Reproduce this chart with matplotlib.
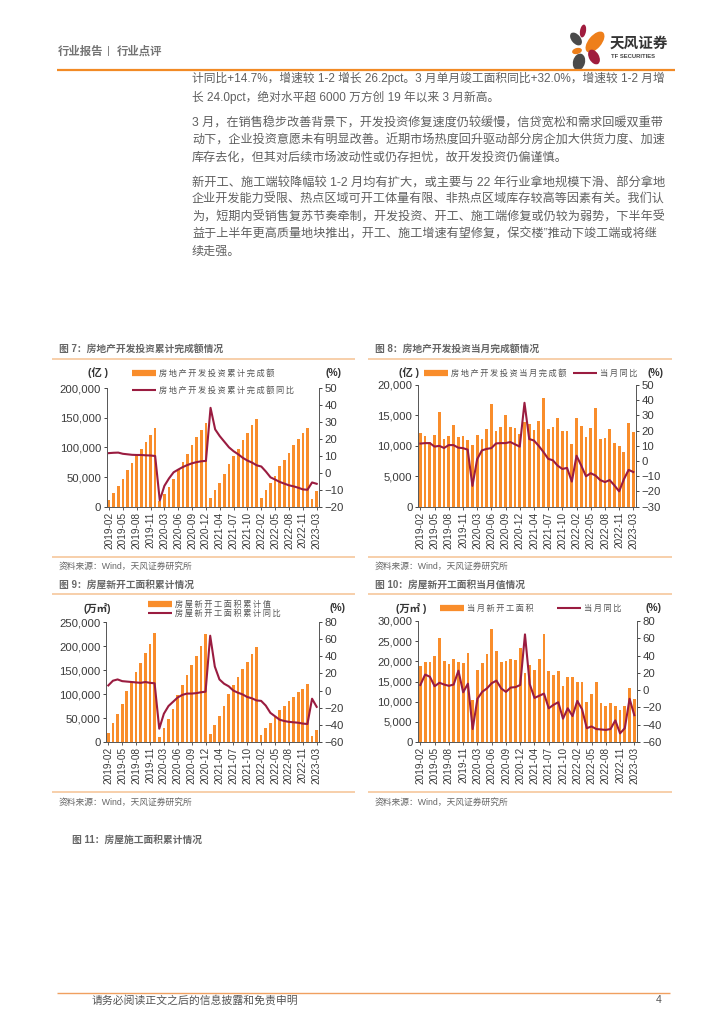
import matplotlib
matplotlib.use("Agg")
import matplotlib.pyplot as plt
from matplotlib.patches import Ellipse
from matplotlib.ticker import FuncFormatter, MultipleLocator

plt.rcParams['font.family'] = ['Liberation Sans', 'Noto Sans CJK SC', 'DejaVu Sans']

W, H = 724, 1024
CJK = ['Noto Sans CJK SC', 'DejaVu Sans']
ORANGE = '#F98D2B'
RED = '#9A1C40'
GREY = '#5A5A5A'
PEACH = '#F7CBA4'

months = ['2019-02','2019-03','2019-04','2019-05','2019-06','2019-07','2019-08','2019-09','2019-10','2019-11','2019-12',
          '2020-02','2020-03','2020-04','2020-05','2020-06','2020-07','2020-08','2020-09','2020-10','2020-11','2020-12',
          '2021-02','2021-03','2021-04','2021-05','2021-06','2021-07','2021-08','2021-09','2021-10','2021-11','2021-12',
          '2022-02','2022-03','2022-04','2022-05','2022-06','2022-07','2022-08','2022-09','2022-10','2022-11','2022-12',
          '2023-02','2023-03']

invest_cum = [12000,23800,34200,46000,61600,73000,84600,98000,109600,121300,132200,
              10100,21900,33100,45900,62800,75300,88500,103500,116600,129500,141400,
              13900,27600,40200,54300,72000,84900,98000,112000,124900,137300,147600,
              14500,27800,39200,52100,68300,79500,90800,103600,113900,123900,132900,
              13700,25900]
invest_cum_yoy = [11.6,11.8,11.9,11.2,10.9,10.6,10.5,10.5,10.3,10.2,9.9,
                  -16.3,-7.7,-3.3,0.3,1.9,3.4,4.6,5.6,6.3,6.8,7.0,
                  38.3,25.6,21.6,18.3,15.0,12.7,10.9,8.8,7.2,6.0,4.4,
                  3.7,0.7,-2.7,-4.0,-5.4,-6.4,-7.4,-8.0,-8.8,-9.8,-10.0,
                  -5.7,-6.5]
invest_mon = [12100,11700,10700,11800,15500,11200,11700,13400,11500,11600,10900,
              10100,11800,11100,12800,16900,12500,13100,15000,13100,12900,11900,
              13900,13600,12600,14100,17900,12800,13100,14500,12400,12400,10300,
              14500,13300,11400,13000,16200,11100,11300,12800,10400,10000,9000,
              13700,12200]
invest_mon_yoy = [11.5,11.8,11.8,9.5,10,8.6,10.5,10.5,8.8,8.5,7.5,
                  -16.3,1.2,7,8,8.5,11.6,11.8,11.8,12.5,11,9.5,
                  38.3,14.5,13.5,10,6,1.5,0.5,-3,-5.2,-4.5,-13.5,
                  3.5,-3,-10,-8,-9.5,-12.5,-13.8,-12.5,-16,-19.9,-12,
                  -5.8,-7.2]
start_cum = [19200,39000,58600,80000,105500,123000,145000,164500,185500,204500,227000,
             10400,28200,48100,69500,97500,119000,139800,160500,180000,201000,224500,
             17000,36200,54000,74000,100500,119000,135500,152000,166500,183500,198500,
             15000,29500,39700,51500,66500,76000,85500,94500,103500,111000,120500,
             13000,24000]
start_cum_yoy = [6,11.5,13,11,10.5,10,9.5,9,10,9,8.5,
                 -44.5,-27,-18,-13,-8,-5,-3.5,-3.5,-3,-2,-1.3,
                 64,28,13,8,5,0,-2.5,-4.5,-7.5,-9,-11.5,
                 -12,-17.5,-26,-30,-34,-35.5,-36.5,-37,-37.5,-38.5,-39,
                 -9.5,-19]
start_mon = [18800,19900,19800,21200,25700,20200,19400,20500,19900,19500,22000,
             10400,17800,19500,21800,28000,22500,19800,20200,20600,20300,23300,
             17000,19100,17800,20500,26900,17600,16500,17500,13800,16000,16000,
             14900,14800,9900,11800,14800,9600,8900,9700,8900,8000,8900,
             13500,10600]
start_mon_yoy = [6,18,15.5,4.5,8.5,6.5,5,6.5,22.5,-2.5,7.5,
                 -45,-10,-2,2,8,11,2,-2,3,3.5,6,
                 64.5,7,-9,-6.5,-4,-21,-17,-14,-33,-21,-30,
                 -12.5,-22,-44,-42,-45,-45.5,-46,-45,-35,-50,-44,
                 -10,-29]

C = '\uff0c'   # full-width comma
K = '\uff1a'   # full-width colon
body_lines = [
    f'计同比+14.7%{C}增速较 1-2 增长 26.2pct。3 月单月竣工面积同比+32.0%{C}增速较 1-2 月增',
    f'长 24.0pct{C}绝对水平超 6000 万方创 19 年以来 3 月新高。',
    f'3 月{C}在销售稳步改善背景下{C}开发投资修复速度仍较缓慢{C}信贷宽松和需求回暖双重带',
    f'动下{C}企业投资意愿未有明显改善。近期市场热度回升驱动部分房企加大供货力度、加速',
    f'库存去化{C}但其对后续市场波动性或仍存担忧{C}故开发投资仍偏谨慎。',
    f'新开工、施工端较降幅较 1-2 月均有扩大{C}或主要与 22 年行业拿地规模下滑、部分拿地',
    '企业开发能力受限、热点区域可开工体量有限、非热点区域库存较高等因素有关。我们认',
    f'为{C}短期内受销售复苏节奏牵制{C}开发投资、开工、施工端修复或仍较为弱势{C}下半年受',
    f'益于上半年更高质量地块推出{C}开工、施工增速有望修复{C}保交楼”推动下竣工端或将继',
    '续走强。',
]
body_y = [78, 97, 124, 141, 158, 183, 200, 217, 235, 252]
body_size = [8.44, 8.44, 8.74, 8.7, 8.7, 8.8, 8.7, 8.7, 8.7, 8.7]

fig = plt.figure(figsize=(7.24, 10.24), dpi=100, facecolor='white')
bg = fig.add_axes([0, 0, 1, 1], zorder=0)
bg.set_xlim(0, W); bg.set_ylim(H, 0); bg.axis('off')

def txt(x, y, s, size=7.5, color=GREY, weight='normal', ha='left', family=None, ax=bg, **kw):
    return ax.text(x, y, s, fontsize=size, color=color, fontweight=weight, ha=ha, va='center',
                   family=family or ['Liberation Sans'] + CJK, **kw)

def rule(x0, x1, y, color=PEACH, lw=1.3):
    bg.plot([x0, x1], [y, y], color=color, lw=lw, solid_capstyle='butt')

def spaced(s):
    return '\u2009'.join(s)

# page furniture
txt(58, 51, '行业报告', 8.2, weight='bold', family=CJK, alpha=0.85)
txt(107, 51, '|', 8, color='#777777')
txt(117, 51, '行业点评', 8.2, weight='bold', family=CJK, alpha=0.85)
rule(57, 675, 69.5, color='#F28A25', lw=1.6)
for (cx, cy, w, h, ang, col) in [(595, 42, 13, 25, 40, '#EE7F1A'), (583, 31, 6, 13, 10, '#A01C3E'),
                                 (576, 39, 9, 15, -40, '#4A4A4A'), (577, 51, 10, 6, -15, '#EE7F1A'),
                                 (579, 62, 12, 17, 15, '#4A4A4A'), (594, 57, 10, 16, -30, '#A01C3E')]:
    bg.add_patch(Ellipse((cx, cy), w, h, angle=ang, color=col, lw=0))
txt(610, 43, '天风证券', 10.5, color='#333333', weight='bold', family=CJK)
txt(611, 57, 'TF SECURITIES', 4.2, color='#444444', weight='bold')

for s, y, sz in zip(body_lines, body_y, body_size):
    txt(192, y, s, sz, color='#5f5f5f')

rule(57, 670, 992.5, color='#F0A060', lw=1.0)
txt(92, 1000, '请务必阅读正文之后的信息披露和免责申明', 7.8, color='#555555', family=CJK)
txt(656, 1000, '4', 7.5, color='#555555')
txt(72, 840, f'图 11{K}房屋施工面积累计情况', 7.0, color='#666666', weight='bold')

def panel(box, bars, line, ymax, ystep, rmin, rmax, rstep, title, tx, rules, unit, ux, uy,
          bar_lbl, line_lbl, pos_bar, pos_line, pct_x, ty, ry0, ry1, sy):
    l, r, t, b = box
    ax = fig.add_axes([l / W, 1 - b / H, (r - l) / W, (b - t) / H], zorder=2)
    ax.patch.set_alpha(0)
    x = list(range(len(months)))
    ax.bar(x, bars, width=0.58, color=ORANGE, lw=0)
    ax.set_xlim(-0.5, len(months) - 0.5)
    ax.set_ylim(0, ymax)
    ax.yaxis.set_major_locator(MultipleLocator(ystep))
    ax.yaxis.set_major_formatter(FuncFormatter(lambda v, p: f'{int(v):,}'))
    ax.set_xticks(x[::3])
    ax.set_xticklabels(months[::3], rotation=90, fontsize=7.2, color='#3a3a3a')
    ax.tick_params(axis='y', labelsize=8.2, labelcolor='#3a3a3a', length=2.5, width=0.7, pad=1.5, color='#444444')
    ax.tick_params(axis='x', length=2, width=0.6, pad=1.5, color='#444444')
    ax.spines['top'].set_visible(False)
    ax.spines['right'].set_visible(False)
    for s in ('left', 'bottom'):
        ax.spines[s].set_linewidth(0.7); ax.spines[s].set_color('#555555')
    ax2 = ax.twinx()
    ax2.patch.set_alpha(0)
    ax2.plot(x, line, color=RED, lw=1.5, solid_joinstyle='round')
    ax2.set_ylim(rmin, rmax)
    ax2.yaxis.set_major_locator(MultipleLocator(rstep))
    ax2.tick_params(axis='y', labelsize=8.2, labelcolor='#3a3a3a', length=2.5, width=0.7, pad=1.5, color='#444444')
    ax2.spines['top'].set_visible(False)
    ax2.spines['left'].set_visible(False)
    ax2.spines['bottom'].set_visible(False)
    ax2.spines['right'].set_linewidth(0.7); ax2.spines['right'].set_color('#555555')
    for lbl, (kx, ky), col, lw in ((bar_lbl, pos_bar, ORANGE, 4.5), (line_lbl, pos_line, RED, 1.5)):
        bg.plot([kx, kx + 24], [ky, ky], color=col, lw=lw, solid_capstyle='butt')
        txt(kx + 27, ky, spaced(lbl), 5.9, color='#555555', family=CJK)
    txt(ux, uy, unit, 7.5, color='#333333', weight='bold')
    txt(pct_x, uy, '(%)', 7.5, color='#333333', weight='bold')
    txt(tx, ty, title, 7.0, color='#666666', weight='bold')
    rule(rules[0], rules[1], ry0)
    rule(rules[0], rules[1], ry1)
    txt(tx, sy, f'资料来源{K}Wind{C}天风证券研究所', 6.3, color='#666666')
    return ax

panel((106.7, 319, 388, 506.7), invest_cum, invest_cum_yoy, 200000, 50000, -20, 50, 10,
      f'图 7{K}房地产开发投资累计完成额情况', 59, (52, 355), '(亿 )', 88, 373,
      '房地产开发投资累计完成额', '房地产开发投资累计完成额同比', (132, 373), (132, 390), 326, 349, 359, 556.5, 566)
panel((418, 635.7, 385, 506.7), invest_mon, invest_mon_yoy, 20000, 5000, -30, 50, 10,
      f'图 8{K}房地产开发投资当月完成额情况', 375, (368, 672), '(亿 )', 399, 373,
      '房地产开发投资当月完成额', '当月同比', (424, 373), (573, 373), 648, 349, 359, 556.5, 566)
panel((106, 319, 622, 742), start_cum, start_cum_yoy, 250000, 50000, -60, 80, 20,
      f'图 9{K}房屋新开工面积累计情况', 59, (52, 355), '(万㎡)', 83, 608,
      '房屋新开工面积累计值', '房屋新开工面积累计同比', (148, 604), (148, 613), 329, 585, 594, 792, 802)
panel((418, 636.7, 621, 742), start_mon, start_mon_yoy, 30000, 5000, -60, 80, 20,
      f'图 10{K}房屋新开工面积当月值情况', 375, (368, 672), '(万㎡ )', 396, 608,
      '当月新开工面积', '当月同比', (440, 608), (557, 608), 645, 585, 594, 792, 802)

fig.savefig('out.png', dpi=100, facecolor='white')
